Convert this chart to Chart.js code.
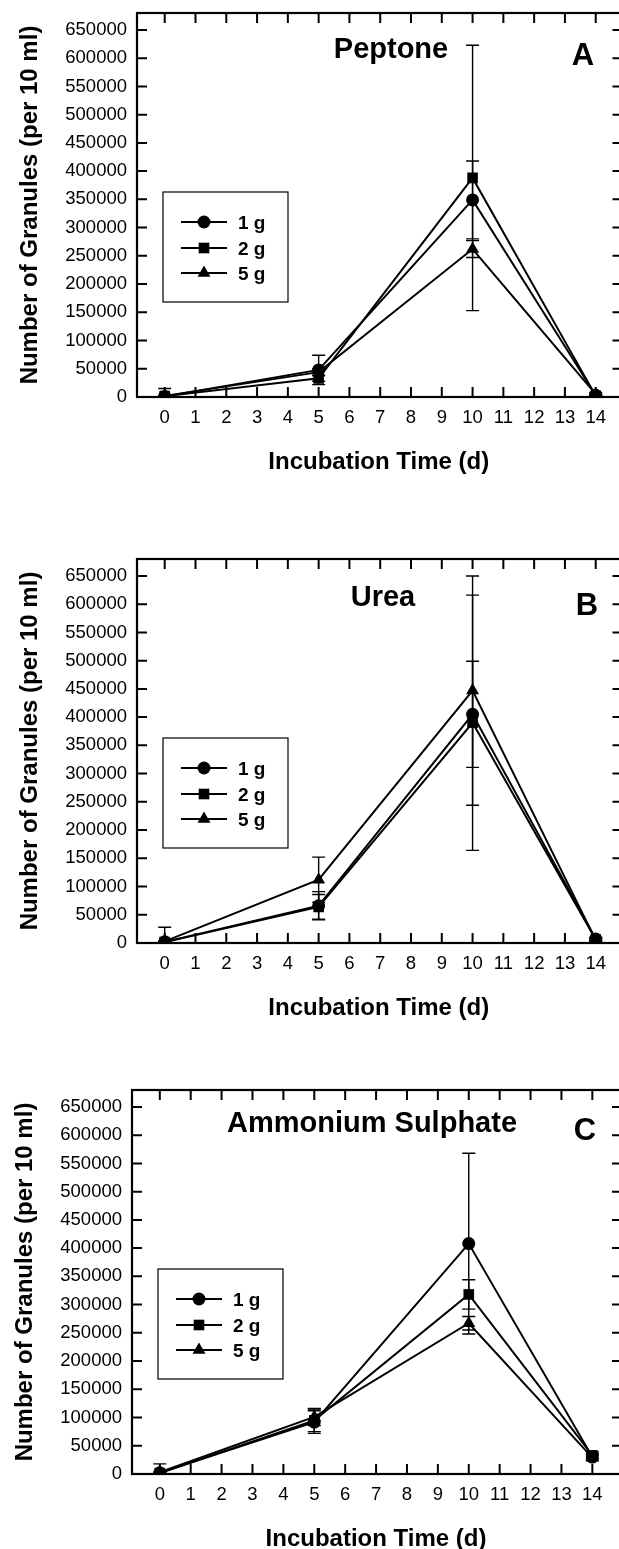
<!DOCTYPE html>
<html>
<head>
<meta charset="utf-8">
<script src="https://cdn.jsdelivr.net/npm/chart.js@4.4.0/dist/chart.umd.min.js"></script>
<style>
  html, body { margin: 0; padding: 0; background: #fff; overflow: hidden; width: 619px; height: 1549px; }
  canvas { position: absolute; left: 0; }
</style>
</head>
<body>
<canvas id="chartA" width="630" height="530" style="top:0px"></canvas>
<canvas id="chartB" width="630" height="530" style="top:546px"></canvas>
<canvas id="chartC" width="630" height="530" style="top:1077px"></canvas>
<script>
// Incubation days and axis ticks
const days = [0, 5, 10, 14];
const xTicks = [0, 1, 2, 3, 4, 5, 6, 7, 8, 9, 10, 11, 12, 13, 14];
const yTicks = [0, 50000, 100000, 150000, 200000, 250000, 300000, 350000, 400000, 450000, 500000, 550000, 600000, 650000];
const doseLabels = ["1 g", "2 g", "5 g"];
const xTitle = "Incubation Time (d)";
const yTitle = "Number of Granules (per 10 ml)";

// Panel A - Peptone
const peptone1g = [1000, 48000, 349000, 3000];
const peptone1gErr = [1000, 26000, 69000, 2000];
const peptone2g = [1500, 33000, 388000, 2000];
const peptone2gErr = [1000, 5000, 235000, 1500];
const peptone5g = [2000, 44000, 262000, 5000];
const peptone5gErr = [13000, 6000, 15000, 3000];

// Panel B - Urea
const urea1g = [2000, 66000, 405000, 7000];
const urea1gErr = [1500, 25000, 94000, 3000];
const urea2g = [1500, 64000, 390000, 6000];
const urea2gErr = [1000, 22000, 226000, 3000];
const urea5g = [3000, 112000, 447000, 5000];
const urea5gErr = [25000, 40000, 203000, 3000];

// Panel C - Ammonium Sulphate
const amm1g = [2000, 92000, 408000, 30000];
const amm1gErr = [1500, 20000, 160000, 6000];
const amm2g = [1500, 95000, 318000, 33000];
const amm2gErr = [1000, 20000, 26000, 6000];
const amm5g = [3000, 101000, 267000, 29000];
const amm5gErr = [15000, 15000, 12000, 5000];

const FONT = "'Liberation Sans', Arial, Helvetica, sans-serif";
const markerStyles = ["circle", "rect", "triangle"];
const markerRadius = [6.5, 7.5, 7.5];

const panelDecor = {
  id: "panelDecor",
  afterDatasetsDraw(chart) {
    const ctx = chart.ctx;
    const xs = chart.scales.x;
    const ys = chart.scales.y;
    ctx.save();
    ctx.strokeStyle = "#000";
    ctx.lineWidth = 1.4;
    chart.data.datasets.forEach((ds) => {
      ds.data.forEach((p, j) => {
        const e = ds.errors[j];
        if (!e) return;
        const x = xs.getPixelForValue(p.x);
        const yHi = ys.getPixelForValue(p.y + e);
        const lo = Math.max(0, p.y - e);
        const yLo = ys.getPixelForValue(lo);
        ctx.beginPath();
        ctx.moveTo(x, yHi);
        ctx.lineTo(x, yLo);
        ctx.moveTo(x - 6.5, yHi);
        ctx.lineTo(x + 6.5, yHi);
        if (lo > 0) {
          ctx.moveTo(x - 6.5, yLo);
          ctx.lineTo(x + 6.5, yLo);
        }
        ctx.stroke();
      });
    });
    ctx.restore();
  },
  afterDraw(chart, args, opts) {
    const ctx = chart.ctx;
    const a = chart.chartArea;
    const xs = chart.scales.x;
    const ys = chart.scales.y;
    ctx.save();
    ctx.strokeStyle = "#000";
    ctx.fillStyle = "#000";

    // frame
    ctx.lineWidth = 2.2;
    ctx.strokeRect(a.left, a.top, a.right - a.left, a.bottom - a.top);

    // inward ticks on all four sides
    ctx.lineWidth = 2;
    ctx.beginPath();
    xTicks.forEach((v) => {
      const x = xs.getPixelForValue(v);
      ctx.moveTo(x, a.bottom);
      ctx.lineTo(x, a.bottom - 10);
      ctx.moveTo(x, a.top);
      ctx.lineTo(x, a.top + 10);
    });
    yTicks.forEach((v) => {
      const y = ys.getPixelForValue(v);
      ctx.moveTo(a.left, y);
      ctx.lineTo(a.left + 10, y);
      ctx.moveTo(a.right, y);
      ctx.lineTo(a.right - 10, y);
    });
    ctx.stroke();

    // panel title and letter
    ctx.textAlign = "center";
    ctx.textBaseline = "alphabetic";
    ctx.font = "bold 29px " + FONT;
    ctx.fillText(opts.title, opts.titleX, a.top + opts.titleY);
    ctx.font = "bold 31px " + FONT;
    ctx.fillText(opts.letter, opts.letterX, a.top + opts.letterY);

    // axis titles
    ctx.font = "bold 24px " + FONT;
    ctx.fillText(xTitle, (a.left + a.right) / 2 - 1, a.bottom + 72);
    ctx.save();
    ctx.translate(a.left - 100, (a.top + a.bottom) / 2);
    ctx.rotate(-Math.PI / 2);
    ctx.fillText(yTitle, 0, 0);
    ctx.restore();

    // legend box
    ctx.lineWidth = 1.2;
    ctx.strokeRect(a.left + 26, a.top + 179, 125, 110);
    const rows = [209, 235, 260];
    chart.data.datasets.forEach((ds, i) => {
      const y = a.top + rows[i];
      ctx.lineWidth = 2;
      ctx.beginPath();
      ctx.moveTo(a.left + 44, y);
      ctx.lineTo(a.left + 90, y);
      ctx.stroke();
      Chart.helpers.drawPoint(ctx, {
        pointStyle: ds.pointStyle,
        radius: ds.pointRadius,
        rotation: 0,
        borderWidth: 0,
      }, a.left + 67, y);
      ctx.font = "bold 19px " + FONT;
      ctx.textAlign = "left";
      ctx.textBaseline = "middle";
      ctx.fillText(ds.label, a.left + 101, y + 1.5);
    });
    ctx.restore();
  },
};

function makePanel(id, values, errors, panel) {
  const datasets = values.map((vals, i) => ({
    label: doseLabels[i],
    data: days.map((d, j) => ({ x: d, y: vals[j] })),
    errors: errors[i],
    borderColor: "#000",
    backgroundColor: "#000",
    borderWidth: 2,
    pointStyle: markerStyles[i],
    pointRadius: markerRadius[i],
    pointBorderWidth: 0,
    fill: false,
    tension: 0,
  }));

  return new Chart(document.getElementById(id), {
    type: "line",
    data: { datasets },
    plugins: [panelDecor],
    options: {
      responsive: false,
      animation: false,
      events: [],
      layout: { padding: { top: 13, right: 630 - panel.right, left: 0, bottom: 0 } },
      plugins: {
        legend: { display: false },
        tooltip: { enabled: false },
        panelDecor: panel,
      },
      scales: {
        x: {
          type: "linear",
          min: -0.9,
          max: panel.xMax,
          grid: { display: false, drawTicks: false },
          border: { display: false },
          afterBuildTicks: (s) => { s.ticks = xTicks.map((v) => ({ value: v })); },
          afterFit: (s) => {
            s.height = 530 - 13 - 384;
            s.paddingLeft = 0;
            s.paddingRight = 0;
          },
          ticks: {
            autoSkip: false,
            maxRotation: 0,
            padding: 10,
            color: "#000",
            font: { family: FONT, size: 18.5 },
            callback: (v) => String(v),
          },
        },
        y: {
          min: 0,
          max: 680000,
          grid: { display: false, drawTicks: false },
          border: { display: false },
          afterBuildTicks: (s) => { s.ticks = yTicks.map((v) => ({ value: v })); },
          afterFit: (s) => {
            s.width = panel.left;
            s.paddingTop = 0;
            s.paddingBottom = 0;
          },
          ticks: {
            autoSkip: false,
            padding: 10,
            color: "#000",
            font: { family: FONT, size: 18.5 },
            callback: (v) => String(v),
          },
        },
      },
    },
  });
}

makePanel("chartA", [peptone1g, peptone2g, peptone5g], [peptone1gErr, peptone2gErr, peptone5gErr], {
  left: 137, right: 624, xMax: 14.87,
  title: "Peptone", titleX: 391, titleY: 45,
  letter: "A", letterX: 583, letterY: 52,
});

makePanel("chartB", [urea1g, urea2g, urea5g], [urea1gErr, urea2gErr, urea5gErr], {
  left: 137, right: 624, xMax: 14.87,
  title: "Urea", titleX: 383, titleY: 47,
  letter: "B", letterX: 587, letterY: 56,
});

makePanel("chartC", [amm1g, amm2g, amm5g], [amm1gErr, amm2gErr, amm5gErr], {
  left: 132, right: 622, xMax: 14.96,
  title: "Ammonium Sulphate", titleX: 372, titleY: 42,
  letter: "C", letterX: 585, letterY: 50,
});
</script>
</body>
</html>
